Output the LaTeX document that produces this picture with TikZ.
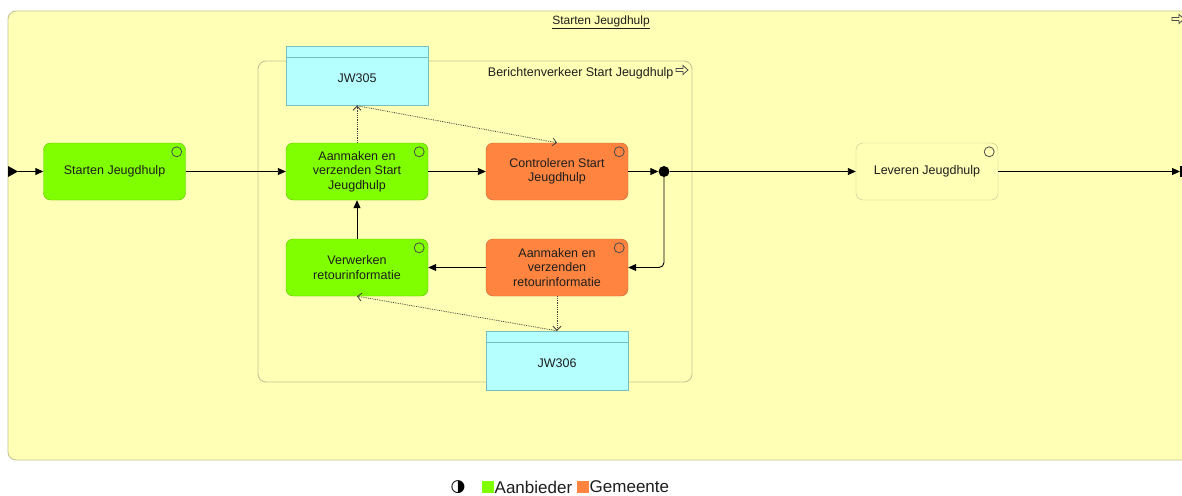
\documentclass[tikz,border=0pt]{standalone}
\usepackage{fontspec}
\setmainfont{Liberation Sans}
\newfontfamily\symfont{DejaVu Sans}
\usetikzlibrary{arrows.meta}

\definecolor{bgyellow}{RGB}{255,255,181}
\definecolor{frameline}{RGB}{196,196,150}
\definecolor{aanbgreen}{RGB}{128,255,0}
\definecolor{aanbline}{RGB}{96,190,0}
\definecolor{gemorange}{RGB}{255,132,64}
\definecolor{gemline}{RGB}{200,100,50}
\definecolor{datacyan}{RGB}{181,255,255}
\definecolor{dataline}{RGB}{120,190,190}
\definecolor{txt}{RGB}{30,30,30}

\tikzset{proc/.style={draw, rounded corners=7pt, minimum width=142pt, minimum height=57pt,
   align=center, inner sep=1pt, text=txt, font=\fontsize{12.5}{14.5}\selectfont}}
\tikzset{aanb/.style={proc, fill=aanbgreen, draw=aanbline}}
\tikzset{gem/.style={proc, fill=gemorange, draw=gemline}}
\tikzset{neutral/.style={proc, fill=bgyellow, draw=frameline}}
\tikzset{dataobj/.style={draw=dataline, fill=datacyan, minimum width=142pt, minimum height=59pt,
   text=txt, font=\fontsize{12.5}{14.5}\selectfont, text depth=0pt}}
\tikzset{flow/.style={draw=black, line width=0.9pt, -{Triangle[length=8pt,width=7pt]}}}
\tikzset{access/.style={draw=black!75, densely dotted, line width=0.8pt, -{Straight Barb[length=4pt,width=8pt]}}}
\tikzset{cornerdot/.style={draw=black!70, line width=0.8pt}}
\tikzset{iconline/.style={draw=black!70, line width=0.8pt}}
\tikzset{procicon/.pic={\draw[iconline] (0,-1.5) -- (7,-1.5) -- (7,-4.5) -- (12,0) -- (7,4.5) -- (7,1.5) -- (0,1.5) -- cycle;}}

\begin{document}
\begin{tikzpicture}[x=1pt, y=-1pt]
\useasboundingbox (0,0) rectangle (1182,495);
\fill[white] (0,0) rectangle (1182,495);
% outer frame
\draw[frameline, fill=bgyellow, line width=0.9pt, rounded corners=8pt] (8,11) rectangle (1200,460);
\node[text=txt, font=\fontsize{12}{14}\selectfont] (title) at (601,22) {\underline{Starten Jeugdhulp}};
\pic at (1172,19) {procicon};
% inner group
\draw[frameline, line width=0.9pt, rounded corners=8pt] (258,61) rectangle (692,382);
\node[anchor=east, text=txt, font=\fontsize{12.5}{14.5}\selectfont] (grouplabel) at (677,73) {Berichtenverkeer Start Jeugdhulp};
\pic at (676,70) {procicon};

% processes
\node[aanb] (startjh) at (114.5,171.5) {Starten Jeugdhulp};
\node[aanb] (aanmstart) at (357,171.5) {Aanmaken en\\verzenden Start\\Jeugdhulp};
\node[gem] (contr) at (557,171.5) {Controleren Start\\Jeugdhulp};
\node[aanb] (verw) at (357,267.5) {Verwerken\\retourinformatie};
\node[gem] (aanmret) at (557,267.5) {Aanmaken en\\verzenden\\retourinformatie};
\node[neutral] (levjh) at (927,171.5) {Leveren Jeugdhulp};
\foreach \n in {startjh,aanmstart,contr,verw,aanmret,levjh}
  \draw[cornerdot] ([xshift=-9pt,yshift=-9pt]\n.north east) circle (5pt);

% data objects
\node[dataobj] (jw305) at (357,76) {\raisebox{-5pt}{JW305}};
\draw[dataline] ([yshift=-11pt]jw305.north west) -- ([yshift=-11pt]jw305.north east);
\node[dataobj] (jw306) at (557,360.5) {\raisebox{-5pt}{JW306}};
\draw[dataline] ([yshift=-11pt]jw306.north west) -- ([yshift=-11pt]jw306.north east);

% junction and ends
\node[circle, fill=black, minimum size=11pt, inner sep=0pt] (jn) at (664,171.5) {};
\fill (8,166) -- (18,171.5) -- (8,177) -- cycle;
\coordinate (startin) at (18,171.5);
\coordinate (endout) at (1180,171.5);

% triggering
\draw[flow] (startin) -- (startjh);
\draw[flow] (startjh) -- (aanmstart);
\draw[flow] (aanmstart) -- (contr);
\draw[flow] (contr) -- (jn);
\draw[flow] (jn) -- (levjh);
\draw[flow, rounded corners=5pt] (jn) |- (aanmret);
\draw[flow] (aanmret) -- (verw);
\draw[flow] (verw) -- (aanmstart);
\draw[flow] (levjh) -- (endout);
\draw[line width=1.5pt] (1181,166) -- (1181,177);

% access
\draw[access] (aanmstart) -- (jw305);
\draw[access] (jw305.south) -- (contr.north);
\draw[access] (aanmret) -- (jw306);
\draw[access] (jw306.north) -- (verw.south);

% legend
\node[font=\symfont\bfseries\fontsize{17}{19}\selectfont, inner sep=0pt] (legicon) at (458,487) {◑};
\node[fill=aanbgreen, minimum width=12pt, minimum height=12pt, inner sep=0pt] (sqaanb) at (487.5,487) {};
\node[anchor=west, inner sep=0pt, text=txt, font=\fontsize{17}{19}\selectfont] (legaanb) at (494.5,487) {Aanbieder};
\node[fill=gemorange, minimum width=12pt, minimum height=12pt, inner sep=0pt] (sqgem) at (583,487) {};
\node[anchor=west, inner sep=0pt, text=txt, font=\fontsize{17}{19}\selectfont] (leggem) at (589.5,487) {Gemeente};
\end{tikzpicture}
\end{document}
